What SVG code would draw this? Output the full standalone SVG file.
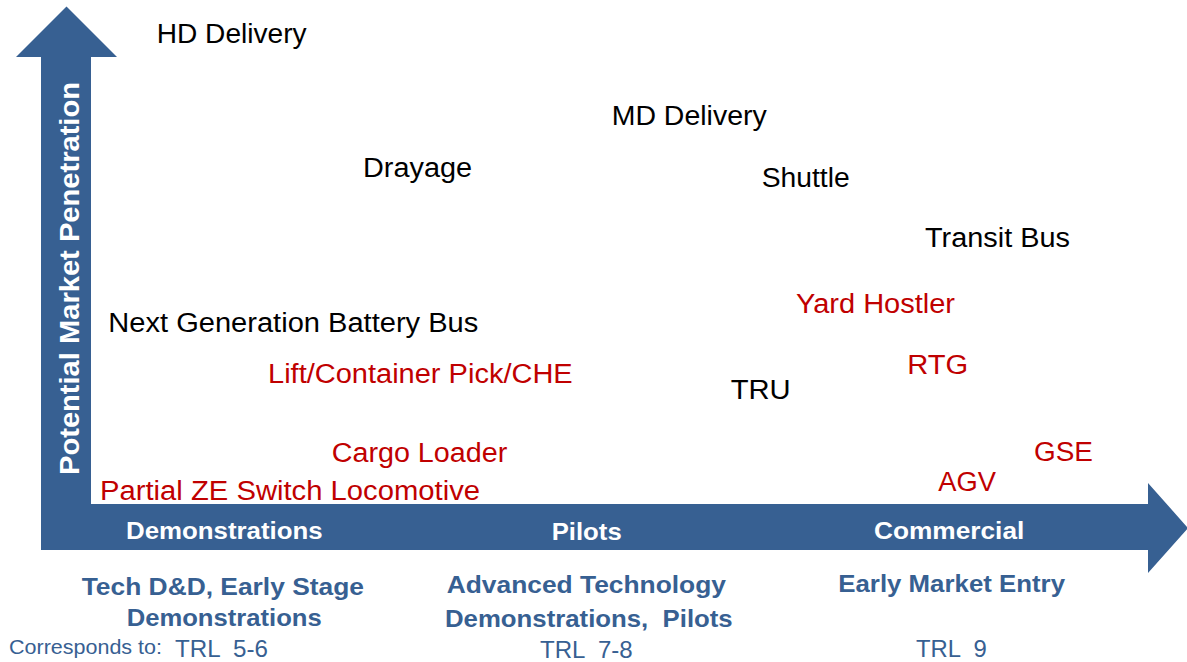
<svg xmlns="http://www.w3.org/2000/svg" width="1187" height="662" viewBox="0 0 1187 662">
<style>
text{font-family:"Liberation Sans",Arial,sans-serif}
.lbl{font-size:27px;fill:#000}
.red{fill:#C00000}
.bar{font-size:24px;font-weight:bold;fill:#fff}
.stage{font-size:24px;font-weight:bold;fill:#376092}
.trl{font-size:24px;fill:#376092}
.axis{fill:#376092}
</style>
<rect width="1187" height="662" fill="#fff"/>
<g id="axes">
<path class="axis" d="M66.5,6.5 L117,57 L91,57 L91,504 L1148,504 L1148,483 L1188,528 L1148,573 L1148,550 L41,550 L41,57 L16,57 Z"/>
<text transform="translate(79,278.5) rotate(-90)" text-anchor="middle" font-size="28" font-weight="bold" fill="#fff" textLength="393" lengthAdjust="spacingAndGlyphs">Potential Market Penetration</text>
<text class="bar" x="126" y="539" textLength="196.7" lengthAdjust="spacingAndGlyphs">Demonstrations</text>
<text class="bar" x="551.7" y="540" textLength="70" lengthAdjust="spacingAndGlyphs">Pilots</text>
<text class="bar" x="874" y="539.3" textLength="150.3" lengthAdjust="spacingAndGlyphs">Commercial</text>
</g>
<g id="node-hd-delivery"><text class="lbl" x="156.7" y="43" textLength="150" lengthAdjust="spacingAndGlyphs">HD Delivery</text></g>
<g id="node-md-delivery"><text class="lbl" x="611.7" y="125" textLength="155" lengthAdjust="spacingAndGlyphs">MD Delivery</text></g>
<g id="node-drayage"><text class="lbl" x="363" y="177" textLength="109" lengthAdjust="spacingAndGlyphs">Drayage</text></g>
<g id="node-shuttle"><text class="lbl" x="761.7" y="186.7" textLength="88" lengthAdjust="spacingAndGlyphs">Shuttle</text></g>
<g id="node-transit-bus"><text class="lbl" x="925" y="246.7" textLength="145" lengthAdjust="spacingAndGlyphs">Transit Bus</text></g>
<g id="node-yard-hostler"><text class="lbl red" x="796" y="313.3" textLength="159" lengthAdjust="spacingAndGlyphs">Yard Hostler</text></g>
<g id="node-next-gen-bus"><text class="lbl" x="108.3" y="332.3" textLength="370" lengthAdjust="spacingAndGlyphs">Next Generation Battery Bus</text></g>
<g id="node-rtg"><text class="lbl red" x="907.3" y="374.3" textLength="61" lengthAdjust="spacingAndGlyphs">RTG</text></g>
<g id="node-lift"><text class="lbl red" x="268" y="383" textLength="304.7" lengthAdjust="spacingAndGlyphs">Lift/Container Pick/CHE</text></g>
<g id="node-tru"><text class="lbl" x="730.7" y="399.3" textLength="60" lengthAdjust="spacingAndGlyphs" font-size="28">TRU</text></g>
<g id="node-gse"><text class="lbl red" x="1034" y="461" textLength="59" lengthAdjust="spacingAndGlyphs">GSE</text></g>
<g id="node-cargo-loader"><text class="lbl red" x="331.7" y="462.3" textLength="175.6" lengthAdjust="spacingAndGlyphs">Cargo Loader</text></g>
<g id="node-agv"><text class="lbl red" x="938.3" y="490.7" textLength="57.7" lengthAdjust="spacingAndGlyphs">AGV</text></g>
<g id="node-switch-loco"><text class="lbl red" x="100" y="499.5" textLength="380" lengthAdjust="spacingAndGlyphs">Partial ZE Switch Locomotive</text></g>
<g id="stage-demonstrations">
<text class="stage" x="81.7" y="595" textLength="282.3" lengthAdjust="spacingAndGlyphs">Tech D&amp;D, Early Stage</text>
<text class="stage" x="126.7" y="625.7" textLength="195" lengthAdjust="spacingAndGlyphs">Demonstrations</text>
<text x="9" y="654" font-size="20" fill="#376092" textLength="153" lengthAdjust="spacingAndGlyphs">Corresponds to:</text>
<text class="trl" x="175" y="656.7" textLength="93" lengthAdjust="spacingAndGlyphs" xml:space="preserve">TRL  5-6</text>
</g>
<g id="stage-pilots">
<text class="stage" x="446.7" y="593.3" textLength="279.3" lengthAdjust="spacingAndGlyphs">Advanced Technology</text>
<text class="stage" x="445" y="626.7" textLength="287.7" lengthAdjust="spacingAndGlyphs" xml:space="preserve">Demonstrations,  Pilots</text>
<text class="trl" x="540" y="657.5" textLength="92.7" lengthAdjust="spacingAndGlyphs" xml:space="preserve">TRL  7-8</text>
</g>
<g id="stage-commercial">
<text class="stage" x="838.3" y="592" textLength="226.7" lengthAdjust="spacingAndGlyphs">Early Market Entry</text>
<text class="trl" x="916" y="656.7" textLength="70.7" lengthAdjust="spacingAndGlyphs" xml:space="preserve">TRL  9</text>
</g>
</svg>
